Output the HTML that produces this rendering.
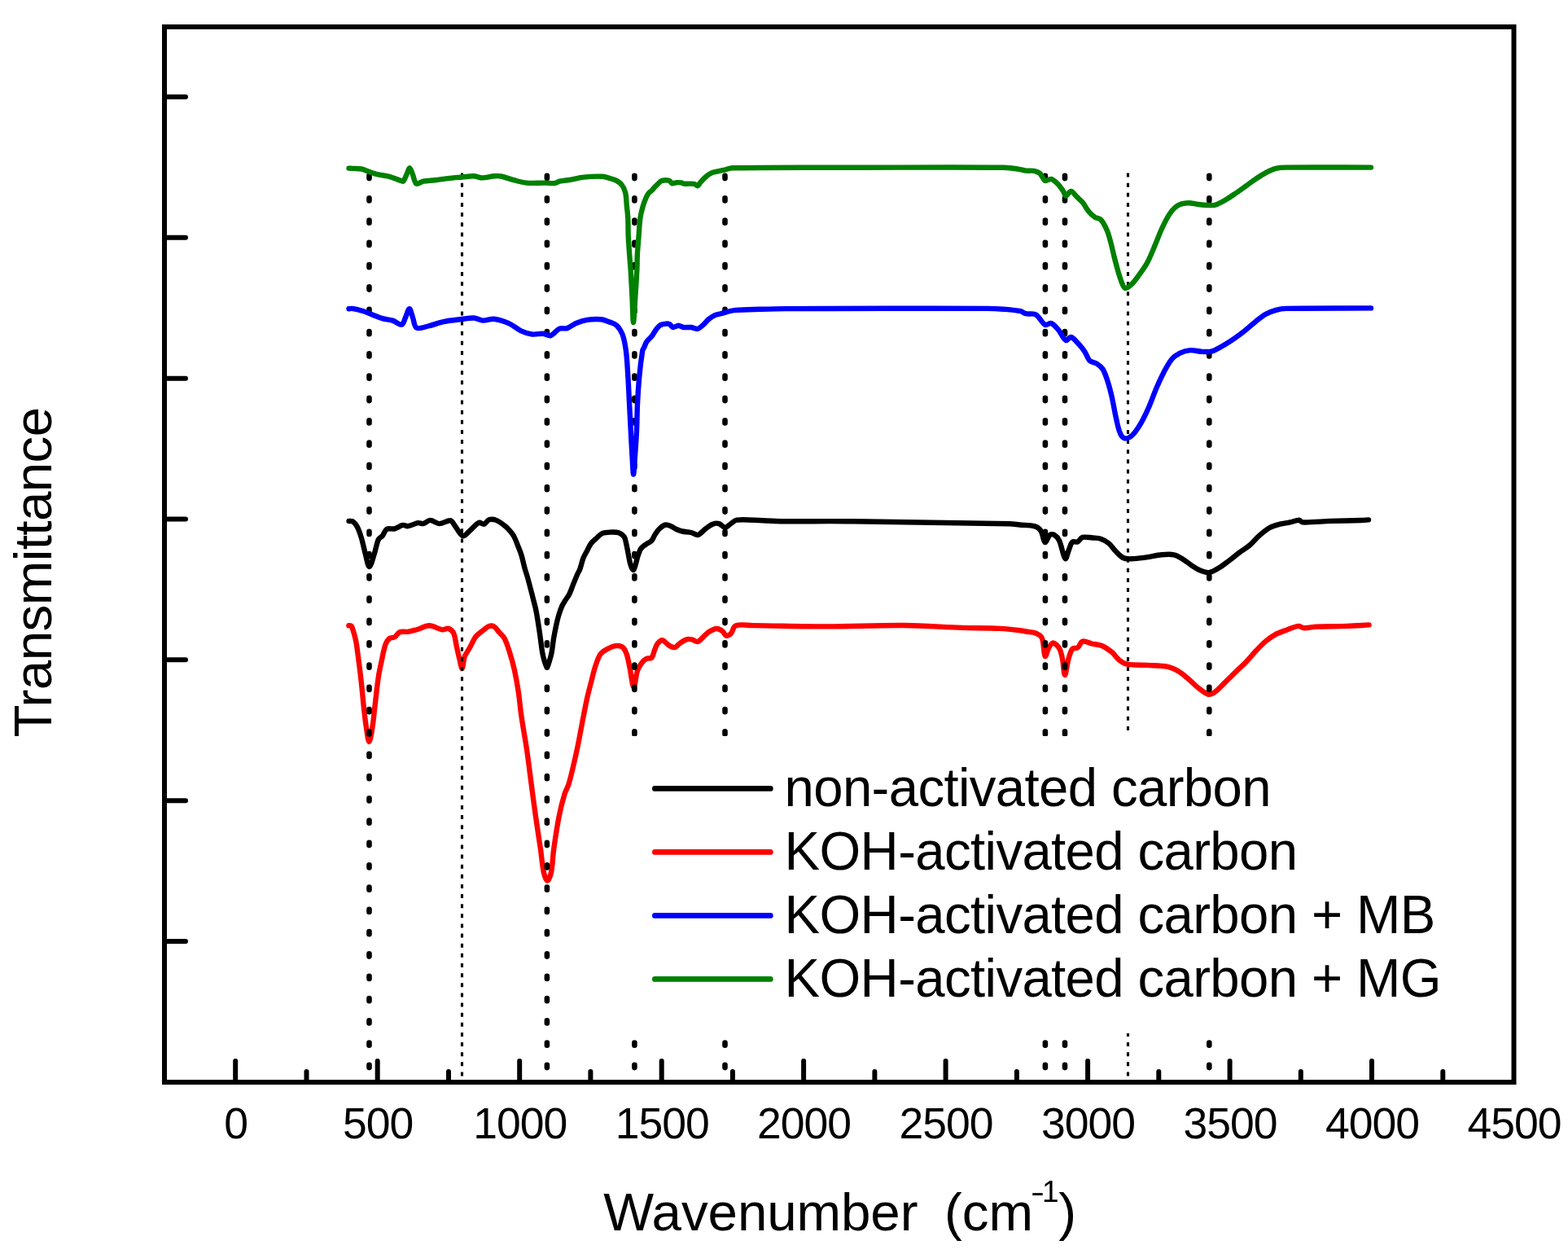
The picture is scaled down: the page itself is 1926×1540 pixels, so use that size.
<!DOCTYPE html><html><head><meta charset="utf-8"><style>html,body{margin:0;padding:0;background:#fff;}svg{display:block}text{font-family:"Liberation Sans",Arial,sans-serif;fill:#000}</style></head><body>
<svg width="1926" height="1540" viewBox="0 0 1926 1540">
<rect width="100%" height="100%" fill="#fff"/>
<path fill="none" stroke="#000000" stroke-width="6.4" stroke-linejoin="round" stroke-linecap="round" d="M428.6,639.9 C430.3,640.1 432.4,639.7 433.7,640.6 C435.7,642.0 437.5,644.5 438.7,646.8 C440.8,650.9 442.3,655.4 443.7,659.9 C445.7,666.4 446.9,673.2 448.7,679.8 C450.2,685.2 451.8,696.0 453.6,696.0 C455.5,696.0 458.1,685.3 459.9,679.8 C461.8,674.1 462.5,667.7 464.9,662.4 C465.8,660.5 468.5,659.7 469.8,658.0 C471.8,655.5 472.4,651.3 474.8,649.9 C477.4,648.4 481.6,650.1 484.8,649.3 C488.3,648.4 491.4,645.6 494.8,644.9 C496.8,644.5 499.0,646.5 501.0,646.2 C505.2,645.6 509.3,642.8 513.5,642.1 C515.5,641.8 517.7,643.5 519.7,643.1 C522.7,642.5 525.4,638.9 528.4,638.9 C532.1,638.9 535.8,643.0 539.6,643.1 C544.1,643.2 549.2,638.9 553.3,639.3 C555.5,639.5 556.7,642.9 558.3,644.9 C561.7,649.2 564.5,656.5 568.3,658.2 C570.4,659.2 573.5,654.9 575.8,653.0 C580.1,649.5 583.7,644.0 588.2,641.8 C590.0,640.9 592.6,644.2 594.5,643.7 C596.8,643.1 598.3,639.1 600.7,638.3 C603.3,637.5 606.8,637.8 609.4,638.9 C613.6,640.6 617.4,643.6 621.0,646.5 C623.8,648.8 626.2,651.7 628.5,654.5 C629.8,656.2 631.0,658.1 631.9,660.0 C633.5,663.2 634.7,666.6 636.0,670.0 C637.6,674.0 639.3,677.9 640.5,682.0 C642.2,687.4 643.2,693.0 644.7,698.4 C645.6,701.6 646.8,704.8 647.7,708.0 C649.3,713.7 650.8,719.5 652.3,725.3 C653.4,729.3 654.4,733.4 655.4,737.4 C656.5,741.8 657.8,746.2 658.6,750.6 C660.2,759.0 661.4,767.5 662.7,775.9 C664.0,784.4 664.8,792.9 666.2,801.3 C666.8,804.9 667.7,808.5 668.8,812.0 C669.6,814.4 670.9,819.0 671.9,819.0 C672.9,819.0 674.0,814.4 674.8,812.0 C675.9,808.5 676.9,804.9 677.6,801.3 C678.7,795.7 679.1,790.0 680.0,784.4 C681.0,778.7 682.1,773.1 683.3,767.5 C684.2,763.3 685.2,759.0 686.5,754.9 C687.6,751.2 688.9,747.5 690.5,743.9 C691.4,741.8 692.7,739.9 693.9,738.0 C695.7,735.1 697.9,732.5 699.4,729.5 C701.4,725.5 702.7,721.1 704.4,716.9 C706.1,712.7 707.8,708.4 709.7,704.2 C710.5,702.5 711.7,700.9 712.3,699.1 C713.9,694.7 714.7,689.9 716.4,685.5 C717.6,682.3 719.5,679.4 721.1,676.4 C722.7,673.3 724.0,670.0 726.1,667.3 C728.1,664.7 730.8,662.7 733.2,660.5 C735.2,658.6 737.0,656.1 739.5,655.1 C742.9,653.7 747.1,653.7 750.9,653.5 C753.9,653.4 757.3,653.2 760.0,654.2 C762.6,655.2 765.2,657.3 766.8,659.5 C768.3,661.6 768.5,664.7 769.1,667.3 C770.0,671.0 770.7,674.8 771.4,678.6 C772.2,682.4 772.7,686.2 773.6,690.0 C774.2,692.5 774.9,695.2 776.0,697.5 C776.4,698.5 777.7,700.3 778.2,699.9 C779.2,699.1 779.9,696.0 780.5,694.0 C781.4,691.2 781.9,688.3 782.7,685.5 C783.4,683.2 784.1,680.9 785.0,678.6 C785.7,676.9 786.3,675.1 787.3,673.6 C788.0,672.5 789.0,671.7 790.0,670.9 C791.4,669.8 793.0,668.8 794.5,667.8 C796.4,666.6 798.8,665.9 800.3,664.2 C802.2,662.0 803.0,658.7 804.7,656.2 C806.4,653.6 808.2,650.9 810.5,648.9 C812.6,647.0 815.2,644.9 817.8,644.5 C820.1,644.2 822.8,645.7 825.1,646.7 C827.1,647.6 828.9,649.1 830.9,650.0 C833.2,651.0 835.6,652.0 838.1,652.5 C841.7,653.3 845.5,653.1 849.0,654.0 C851.5,654.6 853.9,656.6 856.3,656.9 C857.5,657.1 858.9,656.2 859.9,655.4 C862.5,653.5 864.6,650.8 867.2,648.9 C869.9,646.8 872.8,644.5 875.9,643.4 C878.1,642.6 881.0,642.4 883.2,643.1 C885.8,643.9 888.1,647.8 890.5,647.8 C892.9,647.8 895.3,644.6 897.7,643.1 C900.1,641.6 902.2,638.9 905.0,638.6 C915.3,637.6 926.3,639.0 937.0,639.3 C945.3,639.5 953.7,640.1 962.0,640.2 C988.0,640.4 1014.0,639.9 1040.0,640.2 C1106.7,640.9 1173.4,642.0 1240.0,643.3 C1244.2,643.4 1248.3,644.1 1252.5,644.5 C1258.7,645.1 1265.4,644.7 1271.2,646.4 C1274.1,647.2 1277.0,649.5 1278.6,652.0 C1281.1,656.0 1281.5,665.1 1283.6,666.0 C1285.2,666.7 1287.2,658.9 1289.8,656.8 C1291.0,655.8 1293.5,656.0 1294.8,656.8 C1297.2,658.3 1299.7,660.9 1301.0,663.6 C1304.3,670.6 1305.8,683.9 1308.5,686.0 C1310.0,687.2 1311.7,677.7 1313.5,673.6 C1314.7,670.9 1315.3,667.1 1317.3,665.5 C1318.7,664.4 1321.7,666.3 1323.5,665.5 C1325.9,664.4 1327.2,660.6 1329.7,659.9 C1333.4,658.9 1338.0,660.2 1342.2,660.5 C1345.5,660.8 1349.0,660.6 1352.1,661.7 C1355.7,662.9 1359.2,665.0 1362.1,667.4 C1365.4,670.2 1367.7,674.2 1370.8,677.3 C1373.5,680.1 1376.2,683.4 1379.6,685.0 C1382.5,686.4 1386.2,686.4 1389.5,686.3 C1395.7,686.2 1402.0,685.2 1408.2,684.4 C1414.5,683.6 1420.6,681.9 1426.9,681.3 C1431.9,680.8 1437.1,680.4 1441.9,681.3 C1445.4,682.0 1448.7,684.1 1451.8,686.0 C1456.1,688.6 1460.1,692.0 1464.3,694.8 C1467.0,696.6 1469.6,698.6 1472.5,699.8 C1476.4,701.4 1480.9,703.5 1484.9,703.1 C1489.2,702.7 1493.5,699.6 1497.4,697.3 C1501.8,694.7 1505.7,691.5 1509.8,688.5 C1514.0,685.3 1518.0,681.8 1522.3,678.6 C1526.4,675.5 1530.9,673.1 1534.8,669.8 C1539.2,666.0 1542.8,661.2 1547.2,657.4 C1551.1,654.0 1555.2,650.5 1559.7,648.0 C1563.5,645.9 1567.9,644.8 1572.1,643.7 C1576.2,642.6 1580.5,642.3 1584.6,641.4 C1588.4,640.6 1592.2,638.7 1595.8,638.7 C1597.2,638.7 1598.1,641.4 1599.6,641.4 C1611.0,641.8 1622.9,640.3 1634.5,639.9 C1646.9,639.5 1659.4,639.4 1671.8,639.0 C1674.9,638.9 1677.9,638.6 1681.0,638.4"/>
<path fill="none" stroke="#ff0000" stroke-width="6.4" stroke-linejoin="round" stroke-linecap="round" d="M428.4,768.2 C429.4,768.3 430.9,767.9 431.5,768.6 C432.7,769.9 433.1,772.1 433.7,774.0 C435.0,778.4 436.3,782.9 437.2,787.4 C438.4,793.6 439.1,799.9 439.9,806.1 C441.3,816.5 442.6,826.8 443.7,837.2 C444.9,847.6 445.7,858.0 446.8,868.4 C447.7,876.7 448.6,885.0 449.9,893.3 C450.8,899.2 452.2,911.0 453.4,911.0 C454.7,911.0 456.5,899.3 457.4,893.3 C459.0,883.0 459.8,872.5 461.1,862.1 C462.3,851.7 463.3,841.3 464.9,831.0 C465.8,824.7 467.2,818.5 468.6,812.3 C470.1,805.2 471.2,797.9 473.6,791.1 C474.6,788.4 476.4,785.6 478.6,783.9 C480.2,782.7 483.1,783.5 484.8,782.4 C487.2,780.9 488.5,777.2 491.0,776.2 C493.9,775.0 497.7,776.3 501.0,775.8 C505.2,775.1 509.4,773.9 513.5,772.7 C518.1,771.4 522.6,768.2 527.2,768.3 C532.6,768.4 538.0,772.5 543.4,773.3 C545.8,773.7 548.6,771.2 550.8,771.8 C553.2,772.5 556.0,775.0 557.1,777.4 C559.3,782.2 559.6,788.2 560.8,793.6 C562.0,799.0 563.1,804.4 564.5,809.8 C565.4,813.6 566.8,821.5 567.7,821.0 C568.9,820.3 569.1,810.8 570.8,806.1 C572.2,802.3 575.0,799.1 577.0,795.5 C579.6,791.0 581.4,785.9 584.5,781.8 C586.8,778.8 590.2,776.7 593.2,774.3 C595.6,772.4 598.0,769.9 600.7,769.0 C602.5,768.4 605.2,768.6 606.9,769.6 C609.4,771.1 611.1,774.1 613.1,776.4 C615.2,778.8 617.9,780.8 619.4,783.6 C622.1,788.6 623.8,794.3 625.6,799.8 C628.0,807.2 630.1,814.7 631.8,822.3 C633.8,831.4 635.4,840.5 636.8,849.7 C638.3,859.8 639.0,869.9 640.5,880.0 C642.5,893.7 645.1,907.2 647.1,920.9 C649.1,934.5 650.7,948.2 652.5,961.9 C654.3,975.5 656.1,989.2 658.0,1002.8 C659.9,1016.4 662.1,1030.1 664.1,1043.7 C665.4,1052.8 665.9,1062.1 667.8,1071.0 C668.6,1074.7 670.8,1081.5 672.3,1081.5 C673.9,1081.5 676.3,1074.7 677.1,1071.0 C678.9,1062.1 678.8,1052.8 680.1,1043.7 C682.0,1030.0 684.0,1016.3 686.6,1002.8 C688.4,993.6 690.7,984.5 693.4,975.5 C694.8,970.8 697.6,966.6 698.9,961.9 C702.7,948.4 705.7,934.6 708.7,920.9 C711.6,907.3 713.9,893.6 716.6,880.0 C718.1,872.4 719.5,864.8 721.2,857.2 C722.7,850.5 724.5,843.9 726.2,837.2 C727.8,831.0 729.2,824.6 731.2,818.5 C732.9,813.4 734.5,808.0 737.4,803.6 C739.1,801.0 742.1,799.1 744.9,797.6 C748.4,795.7 752.3,793.7 756.1,793.2 C758.9,792.8 762.7,793.3 764.8,794.9 C767.2,796.7 768.7,800.5 769.8,803.6 C771.6,808.8 772.3,814.4 773.5,819.8 C775.2,827.9 776.8,843.2 778.5,844.0 C779.9,844.6 780.8,830.4 782.9,824.0 C784.0,820.6 785.9,817.3 788.0,814.5 C789.7,812.2 792.0,810.0 794.5,808.7 C796.1,807.8 799.1,809.2 800.3,808.0 C802.3,805.8 802.7,801.6 804.0,798.5 C805.1,795.8 805.9,792.7 807.6,790.5 C809.0,788.6 811.5,786.2 813.4,786.2 C815.3,786.2 817.3,789.1 819.2,790.5 C820.7,791.6 822.0,793.1 823.6,793.8 C825.4,794.6 827.7,795.5 829.4,794.9 C831.6,794.1 833.1,791.2 835.2,789.8 C837.9,788.0 840.9,786.0 844.0,785.1 C845.8,784.6 847.9,785.0 849.8,785.4 C852.3,785.9 854.8,788.5 857.0,788.0 C859.4,787.5 861.4,784.4 863.6,782.5 C866.0,780.4 868.1,777.7 870.8,776.0 C873.7,774.2 877.1,772.1 880.3,772.0 C882.7,771.9 885.5,773.7 887.6,775.3 C889.4,776.6 890.1,780.2 891.9,780.7 C893.5,781.2 896.3,779.7 897.7,778.2 C900.2,775.6 900.4,769.6 903.5,768.4 C909.2,766.2 917.4,768.0 924.3,768.1 C954.0,768.4 983.8,769.4 1013.5,769.4 C1045.9,769.4 1078.3,767.7 1110.7,768.0 C1134.4,768.2 1158.0,770.1 1181.7,770.9 C1197.3,771.4 1212.9,771.1 1228.4,771.9 C1237.8,772.4 1247.1,773.6 1256.4,774.7 C1257.6,774.8 1258.8,775.3 1260.0,775.5 C1264.2,776.3 1268.7,776.2 1272.5,777.7 C1275.3,778.9 1278.8,780.8 1279.9,783.6 C1282.5,790.3 1281.8,803.5 1283.7,806.0 C1284.7,807.3 1286.6,798.3 1288.7,794.9 C1289.9,792.8 1291.9,789.3 1293.6,789.5 C1296.0,789.7 1299.5,793.3 1301.1,796.1 C1303.2,799.7 1304.0,804.3 1304.9,808.6 C1306.3,815.3 1306.7,828.8 1308.0,829.0 C1309.2,829.2 1310.5,816.1 1312.3,809.8 C1313.6,805.3 1314.7,800.0 1317.3,796.7 C1318.5,795.2 1322.0,796.7 1323.6,795.5 C1326.1,793.6 1327.1,788.4 1329.8,787.6 C1332.9,786.7 1337.2,789.6 1341.0,790.5 C1345.1,791.4 1349.7,791.4 1353.5,793.0 C1358.0,794.9 1362.1,798.0 1365.9,801.1 C1369.2,803.8 1371.3,807.8 1374.6,810.4 C1377.5,812.7 1381.0,815.0 1384.6,815.7 C1392.6,817.2 1401.2,816.4 1409.5,816.9 C1417.8,817.4 1426.4,817.2 1434.5,818.8 C1438.9,819.6 1443.1,821.8 1446.9,824.1 C1451.4,826.7 1455.4,830.2 1459.4,833.5 C1463.7,837.0 1467.4,841.3 1471.8,844.7 C1475.7,847.7 1480.0,851.8 1484.3,852.8 C1486.9,853.4 1490.2,851.4 1492.5,849.7 C1497.0,846.4 1500.8,841.9 1504.9,837.9 C1509.1,833.8 1513.2,829.7 1517.4,825.6 C1521.5,821.6 1525.8,817.9 1529.8,813.8 C1534.1,809.3 1538.0,804.3 1542.3,799.8 C1546.3,795.5 1550.3,791.2 1554.8,787.4 C1558.6,784.2 1562.8,781.3 1567.2,778.9 C1571.1,776.8 1575.5,775.4 1579.7,773.9 C1584.6,772.1 1589.6,769.5 1594.6,768.9 C1597.1,768.6 1599.5,771.1 1602.1,771.2 C1607.0,771.4 1612.1,769.8 1617.1,769.6 C1629.5,769.1 1642.0,769.3 1654.5,768.9 C1663.5,768.6 1672.5,767.9 1681.5,767.4"/>
<line x1="453.5" y1="215.9" x2="453.5" y2="1312" stroke="#000" stroke-width="6.6" stroke-linecap="round" stroke-dasharray="3.2 24.1"/>
<line x1="671.9" y1="215.9" x2="671.9" y2="1312" stroke="#000" stroke-width="6.6" stroke-linecap="round" stroke-dasharray="3.2 24.1"/>
<line x1="779.4" y1="215.9" x2="779.4" y2="1312" stroke="#000" stroke-width="6.6" stroke-linecap="round" stroke-dasharray="3.2 24.1"/>
<line x1="890.5" y1="215.9" x2="890.5" y2="1312" stroke="#000" stroke-width="6.6" stroke-linecap="round" stroke-dasharray="3.2 24.1"/>
<line x1="1283.9" y1="215.9" x2="1283.9" y2="1312" stroke="#000" stroke-width="6.6" stroke-linecap="round" stroke-dasharray="3.2 24.1"/>
<line x1="1308.0" y1="215.9" x2="1308.0" y2="1312" stroke="#000" stroke-width="6.6" stroke-linecap="round" stroke-dasharray="3.2 24.1"/>
<line x1="1485.3" y1="215.9" x2="1485.3" y2="1312" stroke="#000" stroke-width="6.6" stroke-linecap="round" stroke-dasharray="3.2 24.1"/>
<line x1="567.5" y1="212.6" x2="567.5" y2="1321.5" stroke="#000" stroke-width="3.1" stroke-dasharray="5 7.13"/>
<line x1="1385.5" y1="212.6" x2="1385.5" y2="1321.5" stroke="#000" stroke-width="3.1" stroke-dasharray="5 7.13"/>
<path fill="none" stroke="#0000ff" stroke-width="6.4" stroke-linejoin="round" stroke-linecap="round" d="M428.5,379.3 C429.8,379.2 431.2,378.7 432.5,378.9 C436.7,379.5 440.8,380.6 444.9,381.8 C449.1,383.1 453.2,384.8 457.4,386.4 C461.5,388.0 465.6,390.0 469.8,391.2 C473.9,392.4 478.3,392.3 482.3,393.6 C486.2,394.8 490.6,399.3 493.5,398.6 C495.8,398.1 496.6,392.9 498.0,390.0 C499.7,386.4 501.4,379.2 502.9,379.2 C504.4,379.2 505.7,386.4 507.0,390.0 C508.6,394.2 508.6,400.8 511.6,402.5 C514.9,404.3 521.2,401.6 525.9,400.5 C532.2,399.1 538.3,396.4 544.6,395.1 C552.0,393.6 559.5,392.9 567.0,392.0 C572.0,391.4 577.1,390.2 582.0,390.5 C585.8,390.7 589.4,393.4 593.2,393.6 C597.7,393.8 602.4,391.3 606.9,391.8 C613.2,392.5 619.7,394.8 625.6,397.4 C630.7,399.7 634.9,404.0 640.0,406.4 C644.2,408.4 648.9,409.9 653.5,410.5 C657.9,411.1 662.6,409.5 667.0,409.8 C670.2,410.0 673.6,412.9 676.4,412.1 C680.3,410.9 683.2,405.5 687.2,403.7 C690.0,402.5 693.8,404.1 696.7,403.1 C700.5,401.8 703.7,398.6 707.5,397.0 C711.8,395.2 716.4,393.6 721.0,392.9 C726.7,392.0 732.8,391.8 738.5,392.3 C741.8,392.6 744.9,394.0 748.0,395.2 C751.2,396.5 754.9,397.4 757.4,399.7 C760.4,402.5 763.0,406.5 764.5,410.5 C766.9,416.9 768.0,423.9 768.9,430.7 C770.3,441.4 770.7,452.3 771.4,463.1 C772.1,474.1 772.5,485.2 773.1,496.2 C773.7,507.2 774.2,518.3 774.8,529.3 C775.3,539.5 775.9,549.8 776.5,560.0 C777.0,567.5 777.5,582.5 778.1,582.5 C778.7,582.5 779.4,567.5 780.0,560.0 C780.7,549.8 781.5,539.5 782.0,529.3 C782.5,518.3 782.5,507.2 783.0,496.2 C783.5,485.2 784.2,474.1 785.2,463.1 C786.2,452.3 787.5,441.4 789.2,430.7 C789.4,429.4 790.4,428.2 791.0,427.0 C792.2,424.5 792.9,421.7 794.5,419.4 C796.3,416.7 799.1,414.8 801.1,412.2 C803.0,409.7 804.3,406.7 806.2,404.2 C807.7,402.3 809.3,400.2 811.3,399.1 C813.2,398.0 815.6,397.8 817.8,397.6 C819.2,397.5 821.0,397.4 822.2,398.0 C823.9,398.8 824.9,401.5 826.5,402.0 C827.8,402.4 829.4,400.9 830.9,400.5 C831.9,400.2 832.9,399.6 833.8,399.8 C835.8,400.1 837.6,401.7 839.6,402.0 C842.7,402.4 845.9,401.7 849.0,402.0 C851.7,402.3 854.6,404.3 857.0,403.8 C859.4,403.3 861.6,400.9 863.6,399.1 C866.2,396.9 868.2,394.0 870.8,391.8 C873.0,390.0 875.5,388.3 878.1,387.1 C880.4,386.1 883.0,386.0 885.4,385.3 C887.8,384.6 890.2,383.7 892.6,383.1 C896.2,382.2 899.8,381.2 903.5,380.9 C913.6,380.1 923.8,380.1 934.0,379.8 C944.3,379.5 954.7,379.2 965.0,379.1 C1005.9,378.8 1046.8,378.7 1087.7,378.7 C1129.2,378.7 1170.8,378.6 1212.3,378.9 C1219.2,378.9 1226.1,379.2 1233.0,379.7 C1240.0,380.3 1247.0,380.8 1253.8,382.2 C1256.0,382.7 1257.8,384.7 1260.0,385.2 C1264.0,386.1 1269.1,384.4 1272.5,386.4 C1277.0,389.0 1279.4,396.5 1283.7,398.9 C1285.7,400.0 1289.1,396.2 1291.2,397.0 C1294.5,398.2 1297.4,401.9 1299.9,404.9 C1303.4,408.9 1305.7,416.0 1309.2,418.0 C1310.9,419.0 1313.6,413.4 1315.5,413.9 C1318.8,414.8 1321.9,419.3 1324.8,422.3 C1327.5,425.2 1330.1,428.4 1332.3,431.7 C1334.7,435.2 1335.6,440.0 1338.5,442.9 C1340.6,445.0 1344.6,444.9 1347.2,446.6 C1350.0,448.4 1353.0,450.7 1354.7,453.5 C1357.6,458.4 1359.2,464.2 1361.0,469.7 C1363.0,475.8 1364.5,482.1 1365.9,488.4 C1367.8,496.7 1369.0,505.1 1370.9,513.3 C1372.3,519.6 1373.4,526.2 1375.9,532.0 C1377.0,534.5 1379.2,537.9 1381.5,538.3 C1384.2,538.8 1388.4,536.7 1390.8,534.5 C1394.8,530.8 1397.9,525.6 1400.8,520.8 C1404.6,514.4 1407.8,507.6 1410.8,500.8 C1414.4,492.6 1417.2,484.1 1420.7,475.9 C1423.4,469.6 1426.3,463.3 1429.5,457.2 C1432.5,451.6 1435.4,445.8 1439.4,441.0 C1442.0,437.9 1445.7,435.4 1449.4,433.6 C1453.2,431.7 1457.7,430.4 1461.9,430.1 C1466.8,429.8 1471.8,431.6 1476.8,431.9 C1480.1,432.1 1483.5,432.1 1486.8,431.7 C1488.8,431.4 1490.7,430.7 1492.5,429.8 C1496.7,427.7 1500.9,425.3 1504.9,422.9 C1509.2,420.3 1513.3,417.6 1517.4,414.8 C1521.6,411.8 1525.8,408.7 1529.8,405.5 C1534.1,402.1 1538.0,398.3 1542.3,394.9 C1546.3,391.7 1550.3,388.3 1554.8,385.8 C1558.6,383.6 1562.9,382.0 1567.2,380.8 C1571.2,379.7 1575.5,379.0 1579.7,378.9 C1614.4,378.2 1649.2,378.6 1684.0,378.4"/>
<path fill="none" stroke="#008000" stroke-width="6.4" stroke-linejoin="round" stroke-linecap="round" d="M428.5,206.6 C430.2,206.7 431.8,206.8 433.5,206.9 C437.0,207.1 440.5,206.8 443.9,207.5 C447.1,208.1 450.1,209.8 453.2,210.8 C457.0,212.1 460.8,213.5 464.7,214.4 C469.1,215.5 473.8,215.6 478.2,216.8 C483.1,218.1 487.8,220.4 492.7,222.0 C493.6,222.3 495.0,223.1 495.5,222.5 C497.4,220.1 498.5,216.2 500.0,213.0 C501.1,210.7 502.0,206.2 503.1,206.2 C504.2,206.2 505.5,210.7 506.5,213.0 C508.3,217.1 508.7,223.6 511.4,225.6 C513.1,226.9 516.8,223.3 519.7,222.7 C524.4,221.8 529.4,221.8 534.2,221.2 C539.4,220.6 544.6,219.7 549.8,219.1 C555.7,218.4 561.6,218.0 567.5,217.5 C572.3,217.1 577.2,216.1 582.0,216.3 C585.5,216.4 588.9,218.4 592.4,218.4 C597.2,218.4 602.1,216.7 607.0,216.3 C609.8,216.1 612.8,215.9 615.6,216.5 C620.9,217.6 625.9,219.8 631.2,221.2 C636.3,222.5 641.5,224.1 646.7,224.6 C654.4,225.3 662.2,224.5 670.0,224.6 C673.7,224.6 677.4,225.4 681.0,225.0 C683.2,224.8 685.1,223.2 687.2,222.7 C691.8,221.7 696.6,221.5 701.2,220.7 C706.4,219.8 711.5,218.1 716.8,217.6 C724.5,216.8 732.5,216.4 740.2,216.8 C743.4,216.9 746.4,218.2 749.5,219.1 C752.1,219.9 754.9,220.6 757.3,221.9 C759.6,223.2 762.1,224.8 763.6,226.9 C765.7,229.7 767.4,233.2 768.2,236.7 C769.4,241.7 769.3,247.1 769.8,252.3 C770.3,257.5 771.0,262.7 771.3,267.9 C771.7,275.2 771.4,282.4 771.7,289.7 C772.1,297.7 772.7,305.8 773.3,313.8 C773.7,319.4 774.2,325.0 774.6,330.6 C775.3,342.1 775.9,353.5 776.5,365.0 C777.0,375.3 777.4,396.0 778.0,396.0 C778.6,396.0 779.6,375.3 780.3,365.0 C781.1,353.5 781.8,342.1 782.4,330.6 C782.7,325.0 782.5,319.4 782.8,313.8 C783.2,305.8 784.0,297.7 784.6,289.7 C785.2,282.4 785.4,275.1 786.4,267.9 C787.2,262.6 788.5,257.4 790.0,252.3 C790.9,249.1 792.2,246.0 793.5,243.0 C794.3,241.1 795.2,239.1 796.5,237.5 C797.6,236.1 799.2,235.2 800.5,234.0 C801.8,232.8 802.8,231.3 804.0,230.0 C805.6,228.3 807.3,226.6 809.0,225.0 C810.3,223.9 811.4,222.2 813.0,221.8 C815.8,221.1 819.3,221.0 822.0,221.8 C823.5,222.2 824.1,224.9 825.5,225.3 C827.1,225.7 829.1,224.3 831.0,224.2 C833.0,224.0 835.0,224.1 837.0,224.4 C838.0,224.6 838.9,225.5 840.0,225.6 C844.2,226.0 848.6,225.2 852.7,225.8 C854.3,226.1 855.8,228.5 857.0,228.3 C858.2,228.1 858.9,225.6 860.0,224.4 C862.3,221.8 864.6,219.2 867.2,217.0 C869.4,215.1 871.9,213.4 874.5,212.2 C876.7,211.2 879.3,210.9 881.7,210.3 C884.1,209.8 886.6,209.4 889.0,208.9 C892.6,208.1 896.2,206.4 899.9,206.3 C952.7,205.3 1005.7,205.9 1058.6,205.8 C1116.7,205.7 1174.9,205.2 1233.0,205.8 C1239.3,205.9 1245.5,206.9 1251.7,207.8 C1254.5,208.2 1257.2,209.3 1260.0,209.6 C1263.3,210.0 1266.8,209.3 1270.0,209.9 C1272.6,210.4 1275.5,211.3 1277.4,213.0 C1280.0,215.3 1281.0,220.7 1283.7,222.0 C1285.6,223.0 1288.9,219.3 1291.2,219.9 C1294.3,220.8 1297.4,223.9 1299.9,226.4 C1302.3,228.9 1304.2,232.0 1306.1,234.9 C1307.3,236.7 1307.8,240.5 1309.2,240.5 C1311.0,240.5 1313.4,234.8 1315.5,234.9 C1317.8,235.0 1320.1,239.1 1322.3,241.3 C1324.8,243.7 1327.6,245.9 1329.8,248.6 C1332.6,252.1 1334.5,256.4 1337.3,259.8 C1339.4,262.4 1342.0,264.8 1344.7,266.6 C1346.9,268.1 1350.4,267.9 1352.2,269.8 C1355.4,273.3 1357.7,278.2 1359.7,282.8 C1361.9,288.0 1363.2,293.6 1364.7,299.0 C1366.1,304.2 1367.1,309.4 1368.4,314.6 C1370.0,320.9 1371.6,327.1 1373.4,333.3 C1374.9,338.4 1376.4,343.5 1378.4,348.3 C1379.3,350.4 1380.5,353.8 1382.1,354.0 C1384.2,354.2 1387.5,351.5 1389.6,349.5 C1393.4,345.8 1396.5,341.3 1399.6,337.0 C1403.1,332.2 1406.7,327.3 1409.5,322.0 C1412.9,315.6 1415.5,308.8 1418.3,302.1 C1421.3,295.1 1423.8,287.9 1427.0,281.0 C1430.0,274.6 1433.0,268.1 1437.0,262.3 C1439.6,258.5 1443.0,254.6 1446.9,252.3 C1450.5,250.2 1455.2,249.4 1459.4,249.2 C1463.5,249.0 1467.7,250.5 1471.8,251.0 C1476.0,251.5 1480.1,251.9 1484.3,252.0 C1487.0,252.1 1489.9,252.5 1492.5,251.7 C1496.8,250.4 1500.9,248.0 1504.9,245.7 C1509.2,243.3 1513.3,240.4 1517.4,237.6 C1521.6,234.8 1525.7,231.8 1529.8,228.9 C1534.0,225.9 1538.0,222.8 1542.3,219.9 C1546.4,217.2 1550.5,214.4 1554.8,212.1 C1558.8,210.0 1562.9,207.9 1567.2,206.8 C1571.2,205.8 1575.5,205.6 1579.7,205.6 C1614.4,205.2 1649.2,205.6 1684.0,205.6"/>
<rect x="202" y="33" width="1657.5" height="1296" fill="none" stroke="#000" stroke-width="6"/>
<line x1="203" y1="119.0" x2="228" y2="119.0" stroke="#000" stroke-width="6" stroke-linecap="round"/>
<line x1="203" y1="291.8" x2="228" y2="291.8" stroke="#000" stroke-width="6" stroke-linecap="round"/>
<line x1="203" y1="464.7" x2="228" y2="464.7" stroke="#000" stroke-width="6" stroke-linecap="round"/>
<line x1="203" y1="637.5" x2="228" y2="637.5" stroke="#000" stroke-width="6" stroke-linecap="round"/>
<line x1="203" y1="810.3" x2="228" y2="810.3" stroke="#000" stroke-width="6" stroke-linecap="round"/>
<line x1="203" y1="983.2" x2="228" y2="983.2" stroke="#000" stroke-width="6" stroke-linecap="round"/>
<line x1="203" y1="1156.0" x2="228" y2="1156.0" stroke="#000" stroke-width="6" stroke-linecap="round"/>
<line x1="289.2" y1="1328" x2="289.2" y2="1303" stroke="#000" stroke-width="6" stroke-linecap="round"/>
<line x1="376.5" y1="1328" x2="376.5" y2="1316" stroke="#000" stroke-width="6" stroke-linecap="round"/>
<line x1="463.7" y1="1328" x2="463.7" y2="1303" stroke="#000" stroke-width="6" stroke-linecap="round"/>
<line x1="551.0" y1="1328" x2="551.0" y2="1316" stroke="#000" stroke-width="6" stroke-linecap="round"/>
<line x1="638.2" y1="1328" x2="638.2" y2="1303" stroke="#000" stroke-width="6" stroke-linecap="round"/>
<line x1="725.4" y1="1328" x2="725.4" y2="1316" stroke="#000" stroke-width="6" stroke-linecap="round"/>
<line x1="812.7" y1="1328" x2="812.7" y2="1303" stroke="#000" stroke-width="6" stroke-linecap="round"/>
<line x1="899.9" y1="1328" x2="899.9" y2="1316" stroke="#000" stroke-width="6" stroke-linecap="round"/>
<line x1="987.1" y1="1328" x2="987.1" y2="1303" stroke="#000" stroke-width="6" stroke-linecap="round"/>
<line x1="1074.4" y1="1328" x2="1074.4" y2="1316" stroke="#000" stroke-width="6" stroke-linecap="round"/>
<line x1="1161.6" y1="1328" x2="1161.6" y2="1303" stroke="#000" stroke-width="6" stroke-linecap="round"/>
<line x1="1248.9" y1="1328" x2="1248.9" y2="1316" stroke="#000" stroke-width="6" stroke-linecap="round"/>
<line x1="1336.1" y1="1328" x2="1336.1" y2="1303" stroke="#000" stroke-width="6" stroke-linecap="round"/>
<line x1="1423.3" y1="1328" x2="1423.3" y2="1316" stroke="#000" stroke-width="6" stroke-linecap="round"/>
<line x1="1510.6" y1="1328" x2="1510.6" y2="1303" stroke="#000" stroke-width="6" stroke-linecap="round"/>
<line x1="1597.8" y1="1328" x2="1597.8" y2="1316" stroke="#000" stroke-width="6" stroke-linecap="round"/>
<line x1="1685.0" y1="1328" x2="1685.0" y2="1303" stroke="#000" stroke-width="6" stroke-linecap="round"/>
<line x1="1772.3" y1="1328" x2="1772.3" y2="1316" stroke="#000" stroke-width="6" stroke-linecap="round"/>
<text x="289.7" y="1398" font-size="53.5" letter-spacing="-1" text-anchor="middle">0</text>
<text x="464.2" y="1398" font-size="53.5" letter-spacing="-1" text-anchor="middle">500</text>
<text x="638.7" y="1398" font-size="53.5" letter-spacing="-1" text-anchor="middle">1000</text>
<text x="813.2" y="1398" font-size="53.5" letter-spacing="-1" text-anchor="middle">1500</text>
<text x="987.6" y="1398" font-size="53.5" letter-spacing="-1" text-anchor="middle">2000</text>
<text x="1162.1" y="1398" font-size="53.5" letter-spacing="-1" text-anchor="middle">2500</text>
<text x="1336.6" y="1398" font-size="53.5" letter-spacing="-1" text-anchor="middle">3000</text>
<text x="1511.1" y="1398" font-size="53.5" letter-spacing="-1" text-anchor="middle">3500</text>
<text x="1685.5" y="1398" font-size="53.5" letter-spacing="-1" text-anchor="middle">4000</text>
<text x="1860.0" y="1398" font-size="53.5" letter-spacing="-1" text-anchor="middle">4500</text>
<text y="1511" font-size="65.5"><tspan x="741.3" letter-spacing="-0.10">Wavenumber</tspan> <tspan x="1160.0">(cm</tspan><tspan x="1266.0" y="1475.8" font-size="37" textLength="17.0" lengthAdjust="spacingAndGlyphs">-</tspan><tspan x="1280.0" y="1475.8" font-size="37">1</tspan><tspan x="1300.2" y="1511">)</tspan></text>
<text transform="translate(62.9,905.4) rotate(-90)" x="0" y="0" font-size="65.5" letter-spacing="-0.58">Transmittance</text>
<rect x="735" y="904" width="1080" height="365" fill="#fff"/>
<line x1="804.4" y1="968.4" x2="946.3" y2="968.4" stroke="#000000" stroke-width="6.8" stroke-linecap="round"/>
<text transform="translate(963.5,989.7) scale(1,1.022)" font-size="65.3" letter-spacing="-0.62">non-activated carbon</text>
<line x1="804.4" y1="1046.4" x2="946.3" y2="1046.4" stroke="#ff0000" stroke-width="6.8" stroke-linecap="round"/>
<text transform="translate(963.5,1067.9) scale(1,1.022)" font-size="65.3" letter-spacing="-0.62">KOH-activated carbon</text>
<line x1="804.4" y1="1124.4" x2="946.3" y2="1124.4" stroke="#0000ff" stroke-width="6.8" stroke-linecap="round"/>
<text transform="translate(963.5,1145.9) scale(1,1.022)" font-size="65.3" letter-spacing="-0.62">KOH-activated carbon + MB</text>
<line x1="804.4" y1="1202.4" x2="946.3" y2="1202.4" stroke="#008000" stroke-width="6.8" stroke-linecap="round"/>
<text transform="translate(963.5,1223.9) scale(1,1.022)" font-size="65.3" letter-spacing="-0.62">KOH-activated carbon + MG</text>
</svg></body></html>
